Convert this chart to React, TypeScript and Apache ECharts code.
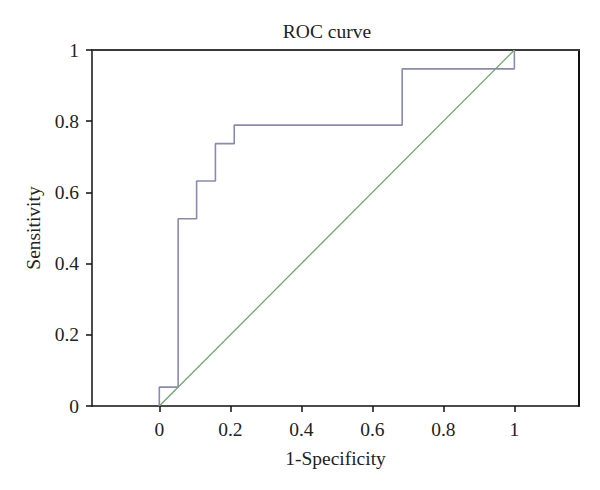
import React, { useEffect, useRef } from "react";
import * as echarts from "echarts";

const fpr = [0, 0, 0.053, 0.053, 0.105, 0.105, 0.158, 0.158, 0.211, 0.211, 0.684, 0.684, 1, 1];
const tpr = [0, 0.053, 0.053, 0.526, 0.526, 0.632, 0.632, 0.737, 0.737, 0.789, 0.789, 0.947, 0.947, 1];
const refX = [0, 1];
const refY = [0, 1];
const xTicks = [0, 0.2, 0.4, 0.6, 0.8, 1];

const FONT = "'Liberation Serif', 'Times New Roman', serif";

export default function App() {
  const ref = useRef<HTMLDivElement>(null);
  useEffect(() => {
    if (!ref.current) return;
    const chart = echarts.init(ref.current, undefined, { renderer: "svg" });
    const label = { fontFamily: FONT, fontSize: 19.5, color: "#222" };
    chart.setOption({
      animation: false,
      backgroundColor: "#fff",
      graphic: [
        {
          type: "text",
          x: 327,
          y: 31,
          style: {
            text: "ROC curve",
            fontFamily: FONT,
            fontSize: 19.5,
            fill: "#222",
            textAlign: "center",
            textVerticalAlign: "middle",
          },
        },
      ],
      grid: { left: 92, right: 21, top: 50, bottom: 84, containLabel: false },
      xAxis: [
        {
          type: "value",
          min: -0.1896,
          max: 1.182,
          position: "bottom",
          name: "1-Specificity",
          nameLocation: "middle",
          nameGap: 42,
          nameTextStyle: { ...label },
          axisLine: { show: true, onZero: false, lineStyle: { color: "#111", width: 1.5 } },
          axisTick: { show: true, inside: false, length: 6, customValues: xTicks, lineStyle: { color: "#111", width: 1.5 } },
          axisLabel: { ...label, margin: 13, customValues: xTicks, formatter: (v: number) => String(+v.toFixed(1)) },
          splitLine: { show: false },
        },
        {
          type: "value",
          min: -0.1896,
          max: 1.182,
          position: "top",
          axisLine: { show: true, onZero: false, lineStyle: { color: "#3a3a3a", width: 2 } },
          axisTick: { show: false },
          axisLabel: { show: false },
          splitLine: { show: false },
        },
      ],
      yAxis: [
        {
          type: "value",
          min: 0,
          max: 1,
          interval: 0.2,
          position: "left",
          name: "Sensitivity",
          nameLocation: "middle",
          nameGap: 47,
          nameTextStyle: { ...label },
          axisLine: { show: true, onZero: false, lineStyle: { color: "#111", width: 1.5 } },
          axisTick: { show: true, inside: false, length: 6, lineStyle: { color: "#111", width: 1.5 } },
          axisLabel: { ...label, margin: 13, formatter: (v: number) => String(+v.toFixed(1)) },
          splitLine: { show: false },
        },
        {
          type: "value",
          min: 0,
          max: 1,
          position: "right",
          axisLine: { show: true, onZero: false, lineStyle: { color: "#111", width: 2 } },
          axisTick: { show: false },
          axisLabel: { show: false },
          splitLine: { show: false },
        },
      ],
      series: [
        {
          type: "line",
          data: refX.map((x, i) => [x, refY[i]]),
          showSymbol: false,
          symbol: "none",
          lineStyle: { color: "#6aa86a", width: 1.3 },
          z: 2,
        },
        {
          type: "line",
          data: fpr.map((x, i) => [x, tpr[i]]),
          showSymbol: false,
          symbol: "none",
          lineStyle: { color: "#8a8aae", width: 1.6 },
          z: 3,
        },
      ],
    });
    return () => chart.dispose();
  }, []);
  return (
    <div
      ref={ref}
      style={{ position: "fixed", left: 0, top: 0, width: 600, height: 490, background: "#fff" }}
    />
  );
}
